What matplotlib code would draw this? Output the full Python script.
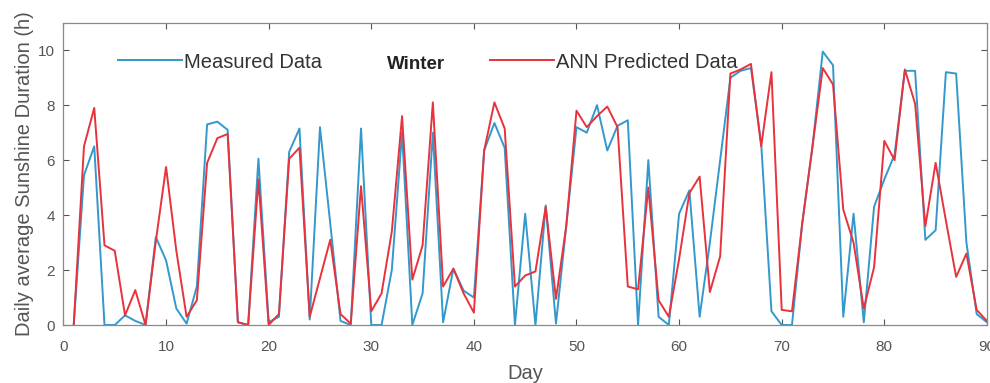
import numpy as np
import matplotlib.pyplot as plt

plt.rcParams['font.family'] = ['Liberation Sans', 'DejaVu Sans']

days = np.arange(1, 91)

measured = [0, 5.45, 6.5, 0, 0, 0.35, 0.15, 0, 3.2, 2.35,
            0.6, 0.05, 1.4, 7.3, 7.4, 7.1, 0.1, 0, 6.05, 0.1,
            0.3, 6.3, 7.15, 0.2, 7.2, 3.7, 0.15, 0, 7.15, 0,
            0, 2.0, 7.0, 0, 1.15, 7.0, 0.1, 2.05, 1.25, 1.0,
            6.35, 7.35, 6.45, 0, 4.05, 0, 4.35, 0.05, 3.6, 7.2,
            7.0, 8.0, 6.35, 7.25, 7.45, 0, 6.0, 0.3, 0, 4.05,
            4.9, 0.3, 3.0, 6.0, 9.0, 9.25, 9.35, 6.6, 0.5, 0,
            0, 3.7, 6.5, 9.95, 9.45, 0.3, 4.05, 0.1, 4.3, 5.3,
            6.2, 9.25, 9.25, 3.1, 3.45, 9.2, 9.15, 3.0, 0.4, 0.1]

predicted = [0, 6.5, 7.9, 2.9, 2.7, 0.35, 1.27, 0, 3.05, 5.75,
             2.7, 0.3, 0.9, 5.9, 6.8, 6.95, 0.1, 0, 5.3, 0,
             0.4, 6.05, 6.45, 0.3, 1.7, 3.1, 0.4, 0.05, 5.05, 0.5,
             1.15, 3.4, 7.6, 1.65, 2.9, 8.1, 1.4, 2.05, 1.15, 0.45,
             6.35, 8.1, 7.15, 1.4, 1.8, 1.95, 4.3, 0.95, 3.6, 7.8,
             7.2, 7.6, 7.95, 7.2, 1.4, 1.3, 5.0, 0.9, 0.3, 2.4,
             4.8, 5.4, 1.2, 2.5, 9.15, 9.3, 9.5, 6.5, 9.2, 0.55,
             0.5, 3.7, 6.5, 9.35, 8.75, 4.2, 3.0, 0.6, 2.1, 6.7,
             6.0, 9.3, 8.05, 3.6, 5.9, 3.8, 1.75, 2.6, 0.55, 0.15]

xticks = np.arange(0, 91, 10)
yticks = np.arange(0, 11, 2)

blue = '#3399cc'
red = '#e8323c'
grey = '#555555'

fig = plt.figure(figsize=(9.9, 3.83), dpi=100)
ax = fig.add_axes([0.0641, 0.1514, 0.9328, 0.7893])

l1, = ax.plot(days, measured, color=blue, lw=1.4)
l2, = ax.plot(days, predicted, color=red, lw=1.4)

ax.set_xlim(0, 90)
ax.set_ylim(0, 11)
ax.set_xticks(xticks)
ax.set_yticks(yticks)
ax.tick_params(direction='in', length=4, top=True, right=True,
               labelsize=11, colors=grey)
ax.tick_params(axis='x', pad=11)
ax.tick_params(axis='y', pad=6)
for s in ax.spines.values():
    s.set_color('#8a8a8a')
    s.set_linewidth(0.9)

ax.set_xlabel('Day', fontsize=14.5, color=grey, labelpad=7)
ax.set_ylabel('Daily average Sunshine Duration (h)', fontsize=14.5,
              color=grey, labelpad=3)

# legend, laid out like the original (two entries with "Winter" between)
leg1 = ax.legend([l1], ['Measured Data'], loc='center left',
                 bbox_to_anchor=(0.059, 0.870), frameon=False,
                 handlelength=3.2, handletextpad=0.1, borderpad=0,
                 borderaxespad=0, fontsize=14.5, labelcolor='#333333')
ax.add_artist(leg1)
ax.legend([l2], ['ANN Predicted Data'], loc='center left',
          bbox_to_anchor=(0.4618, 0.870), frameon=False,
          handlelength=3.2, handletextpad=0.1, borderpad=0,
          borderaxespad=0, fontsize=14.5, labelcolor='#333333')
ax.text(0.3817, 0.863, 'Winter', transform=ax.transAxes, ha='center',
        va='center', fontsize=13.5, fontweight='bold', color='#222222')

fig.savefig('out.png', dpi=100)
